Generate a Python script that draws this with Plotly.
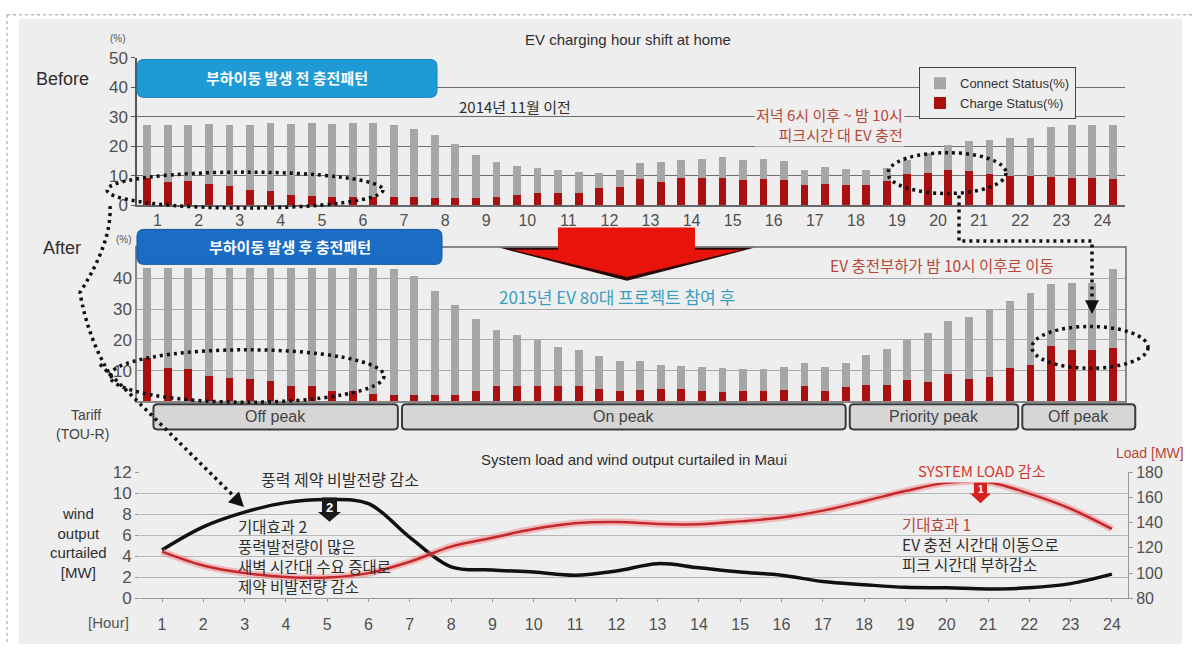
import plotly.graph_objects as go

W, H = 1192, 654


def px(x):
    return x / W


def py(y):
    return 1 - y / H


# ---------------- data ----------------
hours = list(range(1, 25))
slot_offsets = [-0.25, 0.25]          # two half-hour slots per hour

before_connect = [27.4, 27.4, 27.4, 27.8, 27.4, 27.4, 28.1, 27.7, 28.1, 27.8, 28.1, 28.0,
                  27.4, 25.9, 23.9, 20.8, 17.2, 14.8, 13.3, 12.6, 12.2, 11.3, 11.0, 11.9,
                  14.4, 14.8, 15.4, 15.9, 16.4, 15.6, 15.8, 15.0, 12.2, 13.0, 12.4, 11.9,
                  12.8, 15.5, 17.8, 20.5, 22.0, 22.2, 22.8, 23.0, 26.7, 27.2, 27.4, 27.4]
before_charge = [9.4, 8.1, 8.3, 7.4, 6.7, 5.2, 5.0, 3.7, 3.3, 3.0, 3.0, 2.8,
                 2.8, 2.8, 2.6, 2.6, 2.6, 2.8, 3.7, 4.3, 4.3, 4.3, 5.8, 6.3,
                 8.9, 8.0, 9.4, 9.2, 9.4, 8.6, 8.9, 8.6, 7.0, 7.2, 7.0, 7.0,
                 8.3, 10.8, 11.1, 12.2, 11.7, 10.6, 10.0, 10.0, 9.7, 9.4, 9.4, 8.9]
after_connect = [43.4, 43.4, 43.4, 43.4, 43.4, 43.4, 43.4, 43.4, 43.4, 43.4, 43.4, 43.4,
                 43.3, 41.0, 36.0, 31.5, 27.0, 23.3, 21.7, 20.1, 17.8, 16.9, 14.8, 13.3,
                 13.3, 11.9, 11.6, 11.1, 10.9, 10.6, 10.6, 11.2, 12.5, 11.2, 12.5, 15.1,
                 17.1, 19.9, 22.4, 26.1, 27.5, 30.2, 32.6, 35.4, 38.3, 38.6, 38.6, 43.1]
after_charge = [14.0, 11.0, 10.7, 8.3, 7.5, 7.4, 6.7, 5.1, 5.1, 3.5, 3.5, 2.4,
                2.1, 2.1, 2.1, 2.1, 3.5, 4.9, 5.1, 5.1, 5.1, 4.9, 4.0, 3.5,
                3.6, 4.2, 4.2, 3.5, 3.2, 3.5, 3.5, 3.7, 4.9, 3.5, 4.8, 5.2,
                5.5, 6.9, 6.3, 9.0, 7.4, 8.1, 10.8, 11.9, 18.0, 16.7, 16.7, 17.4]

wind_curtailed = [4.6, 6.8, 8.2, 9.1, 9.4, 9.0, 5.8, 3.0, 2.7, 2.5, 2.2, 2.6,
                  3.3, 2.9, 2.5, 2.2, 1.6, 1.3, 1.05, 1.0, 0.9, 1.0, 1.4, 2.3]
system_load = [117, 106, 100, 97, 96.5, 100, 109, 121, 128, 135, 139.5, 140.5,
               139, 138.7, 141, 144, 149.5, 157, 165, 171.5, 172, 163, 151, 135]

tariff_names = ["Off peak", "On peak", "Priority peak", "Off peak"]
tariff_start = [0.9, 6.95, 17.85, 22.05]
tariff_end = [6.85, 17.75, 21.95, 24.8]

pct_ticks_top = [0, 10, 20, 30, 40, 50]
pct_ticks_mid = [10, 20, 30, 40]
wind_ticks = [0, 2, 4, 6, 8, 10, 12]
load_ticks = [80, 100, 120, 140, 160, 180]

slot_x = [h + d for h in hours for d in slot_offsets]

# ---------------- style ----------------
FONT = "Liberation Sans, Noto Sans CJK KR, sans-serif"
KFONT = "Noto Sans CJK KR, sans-serif"
GREY = "#a6a6a6"
RED = "#ab1010"
BG = "#eeeeee"
TXT = "#2e2e2e"
TICK = "#505050"
MUTED_RED = "#b8473b"

TOP_X0, TOP_X1 = 137, 1125
TOP_R0, TOP_R1 = 0.5, 24.55


def hx(h):
    return TOP_X0 + (h - TOP_R0) / (TOP_R1 - TOP_R0) * (TOP_X1 - TOP_X0)


fig = go.Figure()

fig.add_bar(x=slot_x, y=before_connect, name="Connect Status(%)", marker_color=GREY,
            marker_line_width=0, width=0.19, xaxis="x", yaxis="y")
fig.add_bar(x=slot_x, y=before_charge, name="Charge Status(%)", marker_color=RED,
            marker_line_width=0, width=0.19, xaxis="x", yaxis="y")
fig.add_bar(x=slot_x, y=after_connect, name="Connect Status(%)", marker_color=GREY,
            marker_line_width=0, width=0.19, xaxis="x2", yaxis="y2", showlegend=False)
fig.add_bar(x=slot_x, y=after_charge, name="Charge Status(%)", marker_color=RED,
            marker_line_width=0, width=0.19, xaxis="x2", yaxis="y2", showlegend=False)

fig.add_scatter(x=hours, y=system_load, mode="lines", xaxis="x3", yaxis="y4",
                line=dict(color="rgba(240,120,120,0.45)", width=7, shape="spline"),
                showlegend=False, hoverinfo="skip")
fig.add_scatter(x=hours, y=system_load, mode="lines", xaxis="x3", yaxis="y4",
                line=dict(color="#c4282c", width=2.5, shape="spline"),
                name="Load [MW]", showlegend=False)
fig.add_scatter(x=hours, y=wind_curtailed, mode="lines", xaxis="x3", yaxis="y3",
                line=dict(color="#111111", width=3.5, shape="spline"),
                name="wind output curtailed", showlegend=False)

# ---------------- shapes ----------------
shapes = []


def P(x, y):
    return f"{px(x):.5f},{py(y):.5f}"


def poly(pts):
    return "M " + " L ".join(P(x, y) for x, y in pts) + " Z"


def rrect(x0, y0, x1, y1, r):
    return (f"M {P(x0 + r, y0)} L {P(x1 - r, y0)} Q {P(x1, y0)} {P(x1, y0 + r)} "
            f"L {P(x1, y1 - r)} Q {P(x1, y1)} {P(x1 - r, y1)} L {P(x0 + r, y1)} "
            f"Q {P(x0, y1)} {P(x0, y1 - r)} L {P(x0, y0 + r)} Q {P(x0, y0)} {P(x0 + r, y0)} Z")


# background image area + dotted frame
shapes.append(dict(type="rect", xref="paper", yref="paper", x0=px(19), x1=px(1182),
                   y0=py(654), y1=py(10), fillcolor=BG, line=dict(width=0), layer="below"))
shapes.append(dict(type="line", xref="paper", yref="paper", x0=px(7), x1=px(7),
                   y0=py(6), y1=py(654), line=dict(color="#999", width=1, dash="dot"), layer="below"))
shapes.append(dict(type="line", xref="paper", yref="paper", x0=px(7), x1=px(1192),
                   y0=py(6), y1=py(6), line=dict(color="#999", width=1, dash="dot"), layer="below"))

# blue header boxes
shapes.append(dict(type="path", xref="paper", yref="paper", path=rrect(137, 52, 437, 91, 7),
                   fillcolor="#1e9bd7", line=dict(color="#1680b8", width=1), layer="above"))
shapes.append(dict(type="path", xref="paper", yref="paper", path=rrect(137, 227, 442, 263, 7),
                   fillcolor="#1a6cc4", line=dict(color="#14559c", width=1), layer="above"))

# big red arrow (shadow + body)
shapes.append(dict(type="path", xref="paper", yref="paper",
                   path=poly([(500, 246), (754, 246), (627, 280)]),
                   fillcolor="#2a0808", line=dict(width=0), layer="above"))
shapes.append(dict(type="path", xref="paper", yref="paper",
                   path=poly([(558, 225), (695, 225), (695, 248), (742, 248), (627, 276),
                              (512, 248), (558, 248)]),
                   fillcolor="#e8140c", line=dict(width=0), layer="above"))

# tariff boxes
for s, e in zip(tariff_start, tariff_end):
    shapes.append(dict(type="path", xref="paper", yref="paper",
                       path=rrect(hx(s), 407, hx(e), 433, 4),
                       fillcolor="#d6d6d6", line=dict(color="#3a3a3a", width=2), layer="above"))

DOT = dict(color="#111111", width=3.5, dash="3px,4px")

# dotted ellipses
for (x0, y0, x1, y1) in [(107, 168, 383, 205), (888, 148, 1006, 190),
                         (110, 351, 384, 405), (1032, 327, 1148, 370)]:
    shapes.append(dict(type="circle", xref="paper", yref="paper", x0=px(x0), x1=px(x1),
                       y0=py(y1), y1=py(y0), line=DOT, layer="above"))

# dotted connectors
shapes.append(dict(type="path", xref="paper", yref="paper",
                   path=f"M {P(110, 203)} Q {P(112, 240)} {P(80, 292)} Q {P(88, 340)} {P(112, 380)}",
                   line=DOT, layer="above"))
shapes.append(dict(type="path", xref="paper", yref="paper",
                   path=f"M {P(100, 366)} L {P(234, 502)}", line=DOT, layer="above"))
shapes.append(dict(type="path", xref="paper", yref="paper",
                   path=poly([(244, 513), (239, 497), (228, 508)]),
                   fillcolor="#111111", line=dict(width=0), layer="above"))
shapes.append(dict(type="path", xref="paper", yref="paper",
                   path=f"M {P(959, 192)} L {P(959, 239)} L {P(1092, 239)} L {P(1092, 300)}",
                   line=DOT, layer="above"))
shapes.append(dict(type="path", xref="paper", yref="paper",
                   path=poly([(1085, 300), (1099, 300), (1092, 314)]),
                   fillcolor="#111111", line=dict(width=0), layer="above"))

# badges
shapes.append(dict(type="path", xref="paper", yref="paper",
                   path=poly([(322, 503), (337, 503), (337, 518), (341, 518), (329.5, 528),
                              (318, 518), (322, 518)]),
                   fillcolor="#1a1a1a", line=dict(width=0), layer="above"))
shapes.append(dict(type="path", xref="paper", yref="paper",
                   path=poly([(974, 487), (987, 487), (987, 499), (991, 499), (980.5, 509),
                              (970, 499), (974, 499)]),
                   fillcolor="#d8201a", line=dict(width=0), layer="above"))

# ---------------- annotations ----------------
ann = []


def text(x, y, t, size=14, color=TXT, family=FONT, xanchor="center", bg=None, **kw):
    d = dict(x=px(x), y=py(y), xref="paper", yref="paper", text=t, showarrow=False,
             xanchor=xanchor, yanchor="middle", font=dict(size=size, color=color, family=family))
    if bg:
        d["bgcolor"] = bg
    d.update(kw)
    ann.append(d)


text(628, 31, "EV charging hour shift at home", 15, TXT)
text(118, 30, "(%)", 10, "#555")
text(62, 72, "Before", 18, TXT)
text(62, 246, "After", 18, TXT)
text(124, 237, "(%)", 10, "#555")
text(287, 71, "<b>부하이동 발생 전 충전패턴</b>", 15, "white", KFONT)
text(290, 245, "<b>부하이동 발생 후 충전패턴</b>", 15, "white", KFONT)
text(515, 100, "2014년 11월 이전", 15, TXT, KFONT)
text(905, 119, "저녁 6시 이후 ~ 밤 10시<br>피크시간 대 EV 충전", 15, MUTED_RED, KFONT,
     xanchor="right", align="right", bg=BG)
text(617, 296, "2015년 EV 80대 프로젝트 참여 후", 17, "#3a9ec0", KFONT)
text(942, 264, "EV 충전부하가 밤 10시 이후로 이동", 15.5, MUTED_RED, KFONT)
text(86, 418, "Tariff", 14, "#444")
text(82, 438, "(TOU-R)", 14, "#444")
for name, s, e in zip(tariff_names, tariff_start, tariff_end):
    text((hx(s) + hx(e)) / 2, 420, name, 16, "#444")

text(634, 464, "System load and wind output curtailed in Maui", 15, TXT)
text(1150, 457, "Load [MW]", 14, MUTED_RED)
text(78, 550, "wind<br>output<br>curtailed<br>[MW]", 15, TXT)
text(108, 632, "[Hour]", 15, "#555")
text(340, 484, "풍력 제약 비발전량 감소", 16, TXT, KFONT, bg=BG)
text(982, 475, "SYSTEM LOAD 감소", 15, "#d23a30", KFONT, bg=BG)
text(329.5, 513, "<b>2</b>", 13, "white", FONT)
text(980.5, 495, "<b>1</b>", 10, "white", FONT)
text(236, 563, "기대효과 2<br>풍력발전량이 많은<br>새벽 시간대 수요 증대로<br>제약 비발전량 감소",
     15.5, TXT, KFONT, xanchor="left", align="left")
text(900, 551, f"<span style='color:{MUTED_RED}'>기대효과 1</span><br>EV 충전 시간대 이동으로<br>피크 시간대 부하감소",
     15.5, TXT, KFONT, xanchor="left", align="left")

# ---------------- layout ----------------
fig.update_layout(
    width=W, height=H, margin=dict(l=0, r=0, t=0, b=0),
    paper_bgcolor="white", plot_bgcolor="rgba(0,0,0,0)",
    barmode="overlay", bargap=0,
    font=dict(family=FONT, color=TXT),
    shapes=shapes, annotations=ann,
    legend=dict(x=px(919), y=py(60), xanchor="left", yanchor="top",
                bgcolor=BG, bordercolor="#444", borderwidth=1,
                font=dict(size=13, color="#333", family=FONT), tracegroupgap=0,
                itemwidth=30),
    xaxis=dict(domain=[px(TOP_X0), px(TOP_X1)], range=[TOP_R0, TOP_R1], anchor="y",
               tickmode="array", tickvals=hours, ticks="", showgrid=False, zeroline=False,
               showline=True, linecolor="#666", linewidth=1.5,
               tickfont=dict(size=16, color=TICK)),
    yaxis=dict(domain=[py(202), py(50)], range=[0, 50], anchor="x",
               tickmode="array", tickvals=pct_ticks_top, ticks="outside", ticklen=4,
               tickcolor="#555", showline=True, linecolor="#555", linewidth=1.5,
               gridcolor="#6e6e6e", gridwidth=1.3, zeroline=False,
               tickfont=dict(size=17, color=TICK)),
    xaxis2=dict(domain=[px(TOP_X0), px(TOP_X1)], range=[TOP_R0, TOP_R1], anchor="y2",
                showticklabels=False, ticks="", showgrid=False, zeroline=False,
                showline=True, mirror=True, linecolor="#888", linewidth=1.5),
    yaxis2=dict(domain=[py(404), py(246)], range=[0, 50], anchor="x2",
                tickmode="array", tickvals=pct_ticks_mid, ticks="", showline=True,
                mirror=True, linecolor="#888", linewidth=1.5, gridcolor="#a8a8a8",
                gridwidth=1.3, zeroline=False, tickfont=dict(size=17, color=TICK)),
    xaxis3=dict(domain=[px(140), px(1128)], range=[0.467, 24.39], anchor="y3",
                tickmode="array", tickvals=hours, ticks="outside", ticklen=3,
                tickcolor="#999", showgrid=False, zeroline=False, showline=True,
                linecolor="#999", linewidth=1.2, ticklabelstandoff=8,
                tickfont=dict(size=16, color=TICK)),
    yaxis3=dict(domain=[py(607), py(477)], range=[0, 12], anchor="x3",
                tickmode="array", tickvals=wind_ticks, ticks="outside", ticklen=4,
                tickcolor="#999", gridcolor="#b8b8b8", gridwidth=1.2, zeroline=False,
                showline=False, tickfont=dict(size=17, color=TICK)),
    yaxis4=dict(overlaying="y3", side="right", range=[80, 180], anchor="x3",
                tickmode="array", tickvals=load_ticks, ticks="outside", ticklen=4,
                tickcolor="#999", showgrid=False, zeroline=False, showline=True,
                linecolor="#999", tickfont=dict(size=16, color=TICK)),
)

fig.write_html("out.html")
